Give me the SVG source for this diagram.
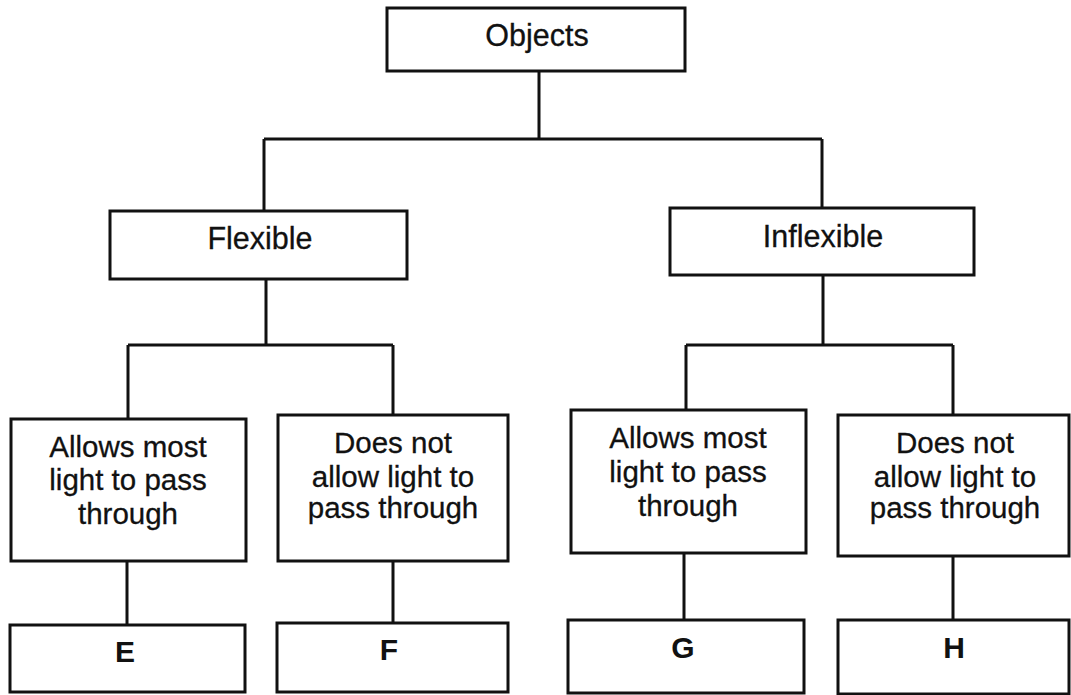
<svg xmlns="http://www.w3.org/2000/svg" width="1071" height="695" viewBox="0 0 1071 695">
<style>
.box{fill:#fff;stroke:#111;stroke-width:3}
.conn{fill:none;stroke:#111;stroke-width:3}
.t{font-family:"Liberation Sans",Arial,sans-serif;font-size:29.5px;fill:#111;stroke:#111;stroke-width:0.3;text-anchor:middle}
.h{font-size:30.5px}
.b{font-family:"Liberation Sans",Arial,sans-serif;font-size:30px;font-weight:bold;fill:#111;text-anchor:middle}
</style>
<rect width="1071" height="695" fill="#fff"/>
<g id="connectors">
<path class="conn" d="M539 71V139M264 139H822M264 139V211M822 139V208"/>
<path class="conn" d="M266 279V345M128 345H393M128 345V419M393 345V415"/>
<path class="conn" d="M823 275V345M686 345H953M686 345V410M953 345V415"/>
<path class="conn" d="M127 561V625M393 561V623M684 553V620M953 556V620"/>
</g>
<g id="objects"><rect class="box" x="387" y="8" width="298" height="63"/><text class="t h" x="537" y="46">Objects</text></g>
<g id="flexible"><rect class="box" x="110" y="211" width="297" height="68"/><text class="t h" x="260" y="249">Flexible</text></g>
<g id="inflexible"><rect class="box" x="670" y="208" width="304" height="67"/><text class="t h" x="823" y="247">Inflexible</text></g>
<g id="flex-allows"><rect class="box" x="11" y="419" width="235" height="142"/><text class="t" x="128" y="457">Allows most</text><text class="t" x="128" y="490">light to pass</text><text class="t" x="128" y="524">through</text></g>
<g id="flex-doesnot"><rect class="box" x="278" y="415" width="230" height="146"/><text class="t" x="393" y="453">Does not</text><text class="t" x="393" y="487">allow light to</text><text class="t" x="393" y="518">pass through</text></g>
<g id="inflex-allows"><rect class="box" x="571" y="410" width="235" height="143"/><text class="t" x="688" y="448">Allows most</text><text class="t" x="688" y="482">light to pass</text><text class="t" x="688" y="516">through</text></g>
<g id="inflex-doesnot"><rect class="box" x="838" y="415" width="231" height="141"/><text class="t" x="955" y="453">Does not</text><text class="t" x="955" y="487">allow light to</text><text class="t" x="955" y="518">pass through</text></g>
<g id="E"><rect class="box" x="10" y="625" width="235" height="67"/><text class="b" x="125" y="662">E</text></g>
<g id="F"><rect class="box" x="277" y="623" width="231" height="69"/><text class="b" x="389" y="660">F</text></g>
<g id="G"><rect class="box" x="568" y="620" width="236" height="73"/><text class="b" x="683" y="658">G</text></g>
<g id="H"><rect class="box" x="838" y="620" width="231" height="74"/><text class="b" x="954" y="658">H</text></g>
</svg>
